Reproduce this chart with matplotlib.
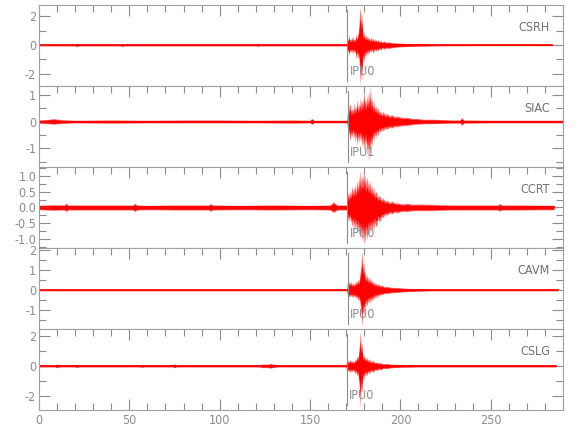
import numpy as np
import matplotlib
matplotlib.use("Agg")
from matplotlib import pyplot as plt
from matplotlib.ticker import MultipleLocator

plt.rcParams['font.family'] = ['DejaVu Sans']
plt.rcParams['font.stretch'] = 'condensed'

stations = ["CSRH", "SIAC", "CCRT", "CAVM", "CSLG"]
picks = ["IPU0", "IPU1", "IPU0", "IPU0", "IPU0"]
pick_time = [170.5, 170.8, 170.5, 170.8, 170.2]

# envelope: time (s), upper and lower amplitude
t_csrh = [0, 20, 21, 22, 45, 46, 47, 80, 120, 121, 122, 150, 165, 170.3,
          170.6, 171.0, 171.5, 172.0, 172.5, 173.0, 173.5, 174.0, 174.5, 175.0,
          175.5, 176.0, 176.5, 177.0, 177.4, 177.8, 178.2, 178.5, 179.0, 179.4,
          179.8, 180.3, 180.8, 181.3, 181.8, 182.3, 182.8, 183.3, 183.8, 184.5,
          185.0, 185.7, 186.3, 187.0, 187.7, 188.5, 189.2, 190.0, 191, 192,
          193, 195, 197, 200, 205, 210, 220, 240, 284]
up_csrh = [0.06, 0.06, 0.12, 0.06, 0.06, 0.1, 0.06, 0.06, 0.06, 0.1, 0.06, 0.06, 0.06, 0.06,
           0.55, 0.3, 0.7, 0.35, 0.45, 0.3, 0.65, 0.35, 0.42, 0.3,
           0.75, 0.45, 0.8, 1.2, 2.1, 2.65, 1.5, 2.3, 1.4, 0.6,
           0.9, 0.5, 0.7, 0.45, 0.65, 0.4, 0.5, 0.35, 0.55, 0.3,
           0.5, 0.3, 0.4, 0.25, 0.38, 0.22, 0.33, 0.2, 0.28, 0.18,
           0.22, 0.18, 0.15, 0.13, 0.1, 0.08, 0.06, 0.05, 0.05]
lo_csrh = [-0.06, -0.06, -0.11, -0.06, -0.06, -0.1, -0.06, -0.06, -0.06, -0.09, -0.06, -0.06, -0.06, -0.06,
           -0.5, -0.35, -0.75, -0.4, -0.55, -0.3, -0.63, -0.4, -0.5, -0.45,
           -1.0, -0.5, -0.9, -0.8, -1.6, -2.75, -1.8, -2.5, -1.5, -0.7,
           -1.2, -0.55, -0.8, -0.45, -0.75, -0.4, -0.6, -0.35, -0.5, -0.35,
           -0.6, -0.3, -0.45, -0.3, -0.4, -0.25, -0.35, -0.2, -0.3, -0.2,
           -0.25, -0.2, -0.16, -0.13, -0.1, -0.08, -0.06, -0.05, -0.05]

t_siac = [0, 5, 8, 12, 20, 40, 60, 80, 100, 120, 140, 150, 151, 152, 160, 170.5,
          170.8, 171.2, 171.7, 172.3, 172.8, 173.2, 173.7, 174.1, 174.6, 175.0,
          175.5, 176.0, 176.5, 177.0, 177.4, 177.8, 178.3, 178.7, 179.2, 179.7,
          180.2, 180.6, 181.0, 181.5, 181.9, 182.4, 182.9, 183.4, 183.8, 184.3,
          184.8, 185.2, 185.8, 186.4, 187.0, 187.6, 188.2, 188.9, 189.7, 190.5,
          191.5, 192.6, 194, 195.5, 197, 198.2, 201, 203.7, 207, 209.2,
          213, 216.6, 227.7, 233, 234, 235, 250, 270, 290]
up_siac = [0.06, 0.08, 0.11, 0.07, 0.05, 0.06, 0.05, 0.06, 0.06, 0.05, 0.06, 0.05, 0.12, 0.05, 0.05, 0.05,
           0.52, 0.3, 0.6, 0.64, 0.35, 0.5, 0.3, 0.7, 0.4, 0.6,
           0.45, 0.83, 0.5, 0.7, 0.45, 0.9, 0.6, 0.8, 0.55, 1.2,
           0.7, 0.85, 0.6, 1.0, 0.7, 1.13, 0.75, 1.32, 0.6, 0.9,
           0.5, 0.77, 0.45, 0.6, 0.4, 0.52, 0.32, 0.4, 0.28, 0.38,
           0.25, 0.3, 0.22, 0.25, 0.18, 0.21, 0.15, 0.16, 0.11, 0.12,
           0.08, 0.09, 0.06, 0.06, 0.15, 0.06, 0.05, 0.05, 0.05]
lo_siac = [-0.06, -0.08, -0.1, -0.07, -0.05, -0.06, -0.05, -0.05, -0.05, -0.05, -0.06, -0.05, -0.11, -0.05, -0.05, -0.05,
           -0.35, -0.3, -0.5, -0.72, -0.4, -0.6, -0.35, -0.65, -0.45, -0.75,
           -0.5, -0.9, -0.55, -0.8, -0.5, -0.72, -0.6, -0.95, -0.6, -1.09,
           -0.7, -1.0, -0.65, -1.27, -0.8, -1.52, -0.8, -1.21, -0.7, -0.9,
           -0.5, -0.72, -0.45, -0.6, -0.4, -0.53, -0.33, -0.4, -0.3, -0.35,
           -0.25, -0.28, -0.22, -0.24, -0.18, -0.2, -0.15, -0.15, -0.11, -0.1,
           -0.08, -0.08, -0.06, -0.06, -0.14, -0.06, -0.05, -0.05, -0.05]

t_ccrt = [0, 8, 14, 15, 16, 22, 35, 52, 53, 54, 60, 75, 94, 95, 96, 110, 130, 150, 161, 163, 165, 170.3,
          170.5, 170.9, 171.3, 171.8, 172.3, 172.8, 173.2, 173.7, 174.1, 174.6,
          175.0, 175.5, 176.0, 176.5, 177.0, 177.4, 177.8, 178.3, 178.7, 179.2,
          179.7, 180.2, 180.6, 181.0, 181.5, 182.0, 182.4, 182.9, 183.4, 183.9,
          184.3, 184.8, 185.2, 185.8, 186.4, 187.0, 187.6, 188.2, 188.9, 189.7,
          190.5, 191.5, 192.6, 194, 195.5, 197, 198.2, 201, 203.7, 207,
          209.2, 216.6, 227.7, 250, 254, 255, 256, 265, 285]
up_ccrt = [0.07, 0.09, 0.08, 0.14, 0.08, 0.08, 0.08, 0.08, 0.14, 0.08, 0.07, 0.08, 0.08, 0.13, 0.08, 0.07,
           0.08, 0.07, 0.08, 0.18, 0.08, 0.08,
           0.76, 0.35, 0.5, 0.3, 0.55, 0.4, 0.7, 0.45, 0.65, 0.5,
           0.75, 0.5, 0.86, 0.6, 1.0, 0.7, 1.18, 0.75, 1.0, 0.8,
           1.23, 0.75, 1.05, 0.7, 0.97, 0.65, 0.9, 0.6, 0.86, 0.5,
           0.7, 0.45, 0.65, 0.4, 0.5, 0.44, 0.3, 0.38, 0.34, 0.25,
           0.3, 0.2, 0.23, 0.16, 0.2, 0.14, 0.15, 0.11, 0.13, 0.1,
           0.11, 0.1, 0.08, 0.08, 0.08, 0.13, 0.08, 0.08, 0.07]
lo_ccrt = [-0.07, -0.09, -0.08, -0.13, -0.08, -0.08, -0.08, -0.08, -0.13, -0.08, -0.07, -0.08, -0.08, -0.12,
           -0.08, -0.07, -0.08, -0.07, -0.08, -0.16, -0.08, -0.08,
           -0.66, -0.3, -0.45, -0.3, -0.4, -0.45, -0.6, -0.4, -0.72, -0.45,
           -0.7, -0.5, -0.82, -0.55, -0.9, -0.6, -0.98, -0.7, -1.05, -0.7,
           -1.19, -0.8, -1.1, -0.7, -1.03, -0.65, -0.9, -0.6, -0.82, -0.55,
           -0.75, -0.5, -0.72, -0.45, -0.6, -0.56, -0.35, -0.45, -0.4, -0.28,
           -0.32, -0.22, -0.24, -0.17, -0.2, -0.14, -0.17, -0.12, -0.13, -0.1,
           -0.1, -0.1, -0.08, -0.08, -0.08, -0.12, -0.08, -0.08, -0.07]

t_cavm = [0, 50, 100, 150, 170.5,
          170.8, 171.2, 171.7, 172.3, 172.8, 173.2, 173.7, 174.1, 174.6, 175.0,
          175.5, 176.0, 176.5, 177.0, 177.4, 177.8, 178.3, 178.7, 179.2, 179.7,
          180.2, 180.6, 181.0, 181.5, 182.0, 182.4, 182.9, 183.4, 183.9, 184.3,
          184.8, 185.2, 185.8, 186.4, 187.0, 187.8, 188.9, 190, 191.3, 192.6,
          195, 198.2, 203.7, 209.2, 216.6, 240, 287]
up_cavm = [0.04, 0.04, 0.04, 0.04, 0.04,
           0.6, 0.25, 0.45, 0.3, 0.43, 0.25, 0.38, 0.25, 0.35, 0.3,
           0.45, 0.35, 0.52, 0.4, 0.6, 0.93, 1.3, 2.0, 1.1, 1.43,
           0.7, 0.95, 0.55, 0.77, 0.5, 0.7, 0.45, 0.6, 0.4, 0.5,
           0.32, 0.43, 0.28, 0.35, 0.25, 0.3, 0.22, 0.24, 0.16, 0.18,
           0.13, 0.13, 0.08, 0.06, 0.04, 0.04, 0.04]
lo_cavm = [-0.04, -0.04, -0.04, -0.04, -0.04,
           -0.4, -0.3, -0.35, -0.25, -0.32, -0.3, -0.38, -0.25, -0.37, -0.3,
           -0.42, -0.35, -0.48, -0.45, -0.55, -0.73, -1.2, -1.82, -1.0, -1.23,
           -0.75, -0.95, -0.6, -0.82, -0.5, -0.7, -0.45, -0.65, -0.4, -0.55,
           -0.35, -0.48, -0.3, -0.38, -0.27, -0.32, -0.22, -0.24, -0.17, -0.18,
           -0.14, -0.12, -0.08, -0.06, -0.04, -0.04, -0.04]

t_cslg = [0, 9, 10, 11, 20, 21, 22, 40, 56, 57, 58, 74, 75, 76, 100, 122, 124, 126, 128, 130, 132, 150, 165, 170.0,
          170.2, 170.7, 171.2, 171.7, 172.3, 172.8, 173.2, 173.7, 174.1, 174.6,
          175.0, 175.5, 176.0, 176.5, 177.0, 177.4, 177.8, 178.2, 178.7, 179.2,
          179.7, 180.2, 180.6, 181.0, 181.5, 182.0, 182.4, 182.9, 183.4, 184.0,
          184.6, 185.2, 186.0, 187.0, 188.0, 188.9, 190.5, 192.6, 195, 198.2,
          209.2, 230, 260, 286]
up_cslg = [0.07, 0.07, 0.14, 0.07, 0.07, 0.12, 0.07, 0.07, 0.07, 0.1, 0.07, 0.07, 0.14, 0.07, 0.07, 0.07,
           0.13, 0.1, 0.16, 0.11, 0.07, 0.07, 0.07, 0.07,
           0.33, 0.2, 0.4, 0.25, 0.44, 0.25, 0.36, 0.22, 0.33, 0.25,
           0.5, 0.35, 0.67, 0.5, 1.0, 1.5, 2.33, 1.2, 1.56, 0.6,
           0.78, 0.45, 0.65, 0.4, 0.56, 0.35, 0.5, 0.3, 0.44, 0.25,
           0.35, 0.33, 0.2, 0.27, 0.18, 0.22, 0.14, 0.16, 0.11, 0.1,
           0.07, 0.07, 0.07, 0.07]
lo_cslg = [-0.07, -0.07, -0.13, -0.07, -0.07, -0.11, -0.07, -0.07, -0.07, -0.1, -0.07, -0.07, -0.13, -0.07,
           -0.07, -0.07, -0.12, -0.1, -0.15, -0.1, -0.07, -0.07, -0.07, -0.07,
           -0.33, -0.2, -0.4, -0.3, -0.44, -0.28, -0.4, -0.25, -0.4, -0.3,
           -0.55, -0.4, -0.67, -0.5, -1.1, -1.6, -2.78, -1.3, -1.78, -0.7,
           -0.89, -0.5, -0.75, -0.45, -0.67, -0.4, -0.55, -0.35, -0.49, -0.3,
           -0.4, -0.4, -0.25, -0.32, -0.2, -0.27, -0.16, -0.18, -0.12, -0.1,
           -0.07, -0.07, -0.07, -0.07]

times = [t_csrh, t_siac, t_ccrt, t_cavm, t_cslg]
uppers = [up_csrh, up_siac, up_ccrt, up_cavm, up_cslg]
lowers = [lo_csrh, lo_siac, lo_ccrt, lo_cavm, lo_cslg]

ylims = [(-2.85, 2.78), (-1.7, 1.33), (-1.28, 1.28), (-1.95, 2.1), (-2.93, 2.45)]
y_major = [2, 1, 0.5, 1, 2]
y_minor = [1, 0.5, 0.25, 0.5, 1]
y_fmt = ["%d", "%d", "%.1f", "%d", "%d"]

W, H = 580, 440
left_px, right_px = 39, 563
edges_px = [5, 86, 167, 248, 329, 410]
grey = '#8c8c8c'

fig = plt.figure(figsize=(W / 100, H / 100), dpi=100)
for i in range(5):
    top, bot = edges_px[i], edges_px[i + 1]
    ax = fig.add_axes([left_px / W, 1 - bot / H, (right_px - left_px) / W, (bot - top) / H])
    t = np.array(times[i])
    up = np.array(uppers[i])
    lo = np.array(lowers[i])
    ax.fill_between(t, lo, up, color='red', alpha=0.6, lw=0)
    ax.fill_between(t, 0.7 * lo, 0.7 * up, color='red', lw=0)
    ax.plot(t, np.zeros_like(t), color='red', lw=1.2)

    ax.axvline(pick_time[i], ymin=0.06, ymax=0.94, color=grey, lw=0.8)
    ax.text(pick_time[i] + 1.5, 0.18, picks[i], transform=ax.get_xaxis_transform(),
            color=grey, fontsize=9, va='center', ha='left')
    ax.text(0.975, 0.72, stations[i], transform=ax.transAxes, color='#707070',
            fontsize=9, ha='right', va='center')

    ax.set_xlim(0, 290)
    ax.set_ylim(*ylims[i])
    ax.xaxis.set_major_locator(MultipleLocator(50))
    ax.xaxis.set_minor_locator(MultipleLocator(10))
    ax.yaxis.set_major_locator(MultipleLocator(y_major[i]))
    ax.yaxis.set_minor_locator(MultipleLocator(y_minor[i]))
    ax.yaxis.set_major_formatter(plt.FormatStrFormatter(y_fmt[i]))
    last = i == 4
    ax.tick_params(axis='x', which='both', direction='in', top=True, bottom=last,
                   labelbottom=last, colors=grey, labelsize=9, pad=3)
    ax.tick_params(axis='y', which='both', direction='in', left=True, right=True,
                   colors=grey, labelsize=9, pad=2)
    ax.tick_params(which='major', length=8, width=0.8)
    ax.tick_params(which='minor', length=5, width=0.8)
    for s in ax.spines.values():
        s.set_color('#a0a0a0')
        s.set_linewidth(0.8)

fig.savefig("out.png", dpi=100)
